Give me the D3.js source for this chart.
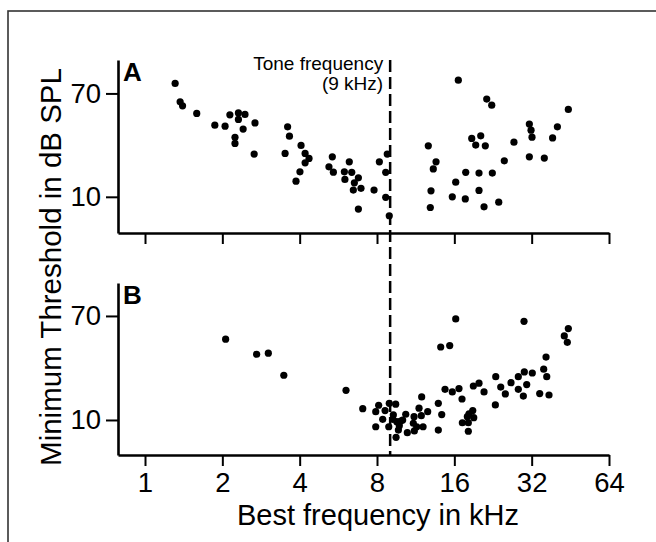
<!DOCTYPE html>
<html>
<head>
<meta charset="utf-8">
<script src="https://cdn.jsdelivr.net/npm/d3@7"></script>
<style>
  body { margin: 0; background: #fff; }
  svg { display: block; font-family: "Liberation Sans", Arial, sans-serif; }
</style>
</head>
<body>
<div id="wrapper"></div>
<script>
// best frequency (kHz) and minimum threshold (dB SPL)
const freqA = [1.31, 1.37, 1.40, 1.59, 1.87, 2.05, 2.14, 2.31, 2.45, 2.31, 2.41, 2.24, 2.24, 2.68, 2.66,
  3.59, 3.65, 3.51, 4.05, 4.20, 4.35, 4.20, 4.01, 3.87, 5.36, 5.20, 5.41, 6.24, 5.97, 6.38, 6.00, 6.53,
  6.77, 6.47, 6.93, 6.77, 7.79, 8.17, 8.77, 8.65, 8.65, 8.93, 16.58, 21.39, 22.37, 44.45, 31.34, 31.82,
  32.1, 40.3, 38.6, 18.70, 20.27, 19.38, 21.12, 27.3, 12.67, 13.58, 13.25, 25.04, 31.34, 35.84, 17.72,
  19.96, 22.49, 16.20, 12.98, 19.96, 15.71, 17.65, 12.90, 20.88, 23.82]
const threshA = [75.8, 65.1, 62.8, 58.4, 51.6, 51.0, 57.6, 58.7, 57.8, 54.9, 49.3, 44.5, 41.0, 52.9, 34.8,
  50.6, 45.2, 35.2, 39.8, 35.2, 32.3, 29.7, 24.5, 19.1, 33.2, 27.4, 24.3, 30.3, 24.5, 24.2, 20.1, 18.1,
  21.0, 13.9, 14.9, 2.9, 13.9, 30.3, 34.8, 24.2, 9.7, -1.0, 77.7, 66.7, 63.2, 60.7, 52.2, 48.7,
  44.6, 50.6, 44.2, 43.9, 45.4, 40.0, 39.6, 41.7, 39.6, 30.3, 26.2, 30.9, 33.2, 32.5, 24.2,
  23.8, 23.8, 18.5, 13.5, 13.7, 10.0, 8.8, 3.8, 4.2, 6.9]

const freqB = [2.06, 2.72, 3.02, 3.47, 6.06, 7.04, 8.12, 7.91, 8.93, 9.46, 8.60, 8.42, 7.91, 8.89, 9.26,
  9.49, 9.69, 9.21, 9.55, 9.90, 10.07, 10.35, 9.77, 10.50, 11.15, 11.08, 11.42, 11.18, 12.09, 11.94,
  11.66, 12.60, 11.90, 13.86, 14.29, 13.86, 14.16, 15.35, 16.20, 14.72, 15.71, 16.68, 17.14, 18.87,
  18.25, 19.04, 17.98, 17.19, 18.14, 18.14, 19.96, 18.97, 20.88, 23.19, 23.11, 24.25, 25.27, 26.59,
  28.39, 28.39, 29.96, 32.18, 30.61, 29.70, 34.39, 37.38, 35.64, 36.63, 36.40, 29.88, 44.45, 42.87, 44.05]
const threshB = [56.6, 47.9, 48.5, 35.8, 27.1, 16.5, 18.5, 14.8, 19.6, 19.1, 15.4, 10.4, 6.1, 6.1, 12.9,
  0.0, 4.2, 10.4, 9.0, 9.4, 10.0, 13.3, 6.7, 2.7, 11.9, 8.1, 6.1, 3.7, 6.1, 23.3,
  16.8, 14.8, 12.5, 19.6, 13.1, 4.2, 52.1, 52.9, 68.3, 27.7, 26.2, 28.1, 22.1, 15.4,
  13.5, 11.3, 11.9, 8.4, 8.4, 3.5, 31.2, 29.6, 26.2, 35.0, 18.7, 29.0, 25.0, 31.5,
  35.0, 27.7, 37.7, 37.1, 30.4, 23.8, 25.2, 24.4, 39.3, 35.0, 46.3, 66.9, 62.7, 58.5, 54.8]

const freqTicks = [1, 2, 4, 8, 16, 32, 64]
const threshTicks = [10, 70]
const toneFreq = 9

const width = 656
const height = 542

const svg = d3.select("#wrapper")
  .append("svg")
    .attr("width", width)
    .attr("height", height)

// frame around the figure, runs off the right and bottom edges
svg.append("rect")
  .attr("x", 8)
  .attr("y", 11)
  .attr("width", 700)
  .attr("height", 600)
  .attr("fill", "none")
  .attr("stroke", "#333")
  .attr("stroke-width", 1.6)

const xScale = d3.scaleLog().base(2)
  .domain([0.785, 64])
  .range([118, 609])

const panels = [
  { label: "A", freq: freqA, thresh: threshA, top: 60, bottom: 233, domain: [-11, 89.4], showLabels: false },
  { label: "B", freq: freqB, thresh: threshB, top: 283, bottom: 455, domain: [-10.2, 89], showLabels: true },
]

panels.forEach(p => {
  const yScale = d3.scaleLinear()
    .domain(p.domain)
    .range([p.bottom, p.top])

  const g = svg.append("g")

  const yAxis = g.append("g")
    .attr("transform", `translate(${xScale.range()[0]},0)`)
    .call(d3.axisLeft(yScale).tickValues(threshTicks).tickSize(12).tickSizeOuter(0).tickPadding(5))
  yAxis.select(".domain").attr("stroke", "#000").attr("stroke-width", 2.6)
  yAxis.selectAll(".tick line").attr("stroke-width", 2)
  yAxis.selectAll(".tick text")
    .attr("font-size", 27.5)
    .attr("fill", "#000")
    .attr("font-family", "Liberation Sans, Arial, sans-serif")

  const xAxis = g.append("g")
    .attr("transform", `translate(0,${p.bottom})`)
    .call(d3.axisBottom(xScale).tickValues(freqTicks).tickSize(11).tickSizeOuter(0).tickPadding(6)
      .tickFormat(p.showLabels ? d3.format("d") : ""))
  xAxis.select(".domain").attr("stroke", "#000").attr("stroke-width", 2.6)
  xAxis.selectAll(".tick line").attr("stroke-width", 2)
  xAxis.selectAll(".tick text")
    .attr("font-size", 27.5)
    .attr("fill", "#000")
    .attr("font-family", "Liberation Sans, Arial, sans-serif")

  g.append("text")
    .attr("x", 123)
    .attr("y", p.top + 21)
    .attr("font-size", 26)
    .attr("font-weight", "bold")
    .text(p.label)

  g.selectAll("circle")
    .data(d3.range(p.freq.length))
    .enter()
    .append("circle")
      .attr("cx", i => xScale(p.freq[i]))
      .attr("cy", i => yScale(p.thresh[i]))
      .attr("r", 3.6)
      .attr("fill", "#000")
})

// dashed line at the tone frequency through both panels
svg.append("line")
  .attr("x1", xScale(toneFreq))
  .attr("x2", xScale(toneFreq))
  .attr("y1", 60)
  .attr("y2", 455)
  .attr("stroke", "#000")
  .attr("stroke-width", 2.5)
  .attr("stroke-dasharray", "12,5")

svg.append("text")
  .attr("x", xScale(toneFreq) - 7)
  .attr("y", 70)
  .attr("text-anchor", "end")
  .attr("font-size", 19)
  .text("Tone frequency")
svg.append("text")
  .attr("x", xScale(toneFreq) - 7)
  .attr("y", 90)
  .attr("text-anchor", "end")
  .attr("font-size", 19)
  .text("(9 kHz)")

// axis titles
svg.append("text")
  .attr("x", 378)
  .attr("y", 525)
  .attr("text-anchor", "middle")
  .attr("font-size", 29)
  .text("Best frequency in kHz")

svg.append("text")
  .attr("transform", "translate(61,267) rotate(-90)")
  .attr("text-anchor", "middle")
  .attr("font-size", 29.5)
  .text("Minimum Threshold in dB SPL")
</script>
</body>
</html>
